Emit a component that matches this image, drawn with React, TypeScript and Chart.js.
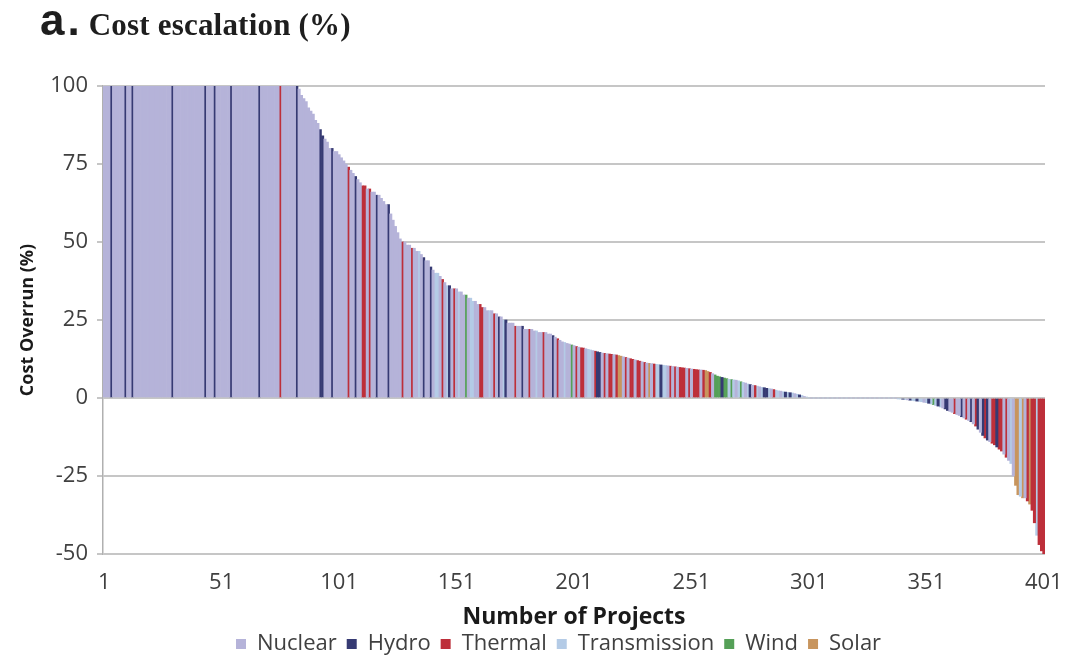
import React, { useEffect, useRef } from 'react';
import { Chart, registerables } from 'chart.js';

Chart.register(...registerables);

// Project categories shown in the legend, their one-letter codes and bar colours
const projectTypes = ['Nuclear', 'Hydro', 'Thermal', 'Transmission', 'Wind', 'Solar'];
const typeCodes = ['N', 'H', 'T', 'R', 'W', 'S'];
const typeColors = ['#b5b3d9', '#363a73', '#bd2f3a', '#b4cbe6', '#55a057', '#c8955e'];

// Cost overrun (%) per project, sorted from largest to smallest
const costOverrun = [
  100, 100, 100, 100, 100, 100, 100, 100, 100, 100,
  100, 100, 100, 100, 100, 100, 100, 100, 100, 100,
  100, 100, 100, 100, 100, 100, 100, 100, 100, 100,
  100, 100, 100, 100, 100, 100, 100, 100, 100, 100,
  100, 100, 100, 100, 100, 100, 100, 100, 100, 100,
  100, 100, 100, 100, 100, 100, 100, 100, 100, 100,
  100, 100, 100, 100, 100, 100, 100, 100, 100, 100,
  100, 100, 100, 100, 100, 100, 100, 100, 100, 100,
  100, 100, 100, 99, 97, 96, 95, 93, 92, 91,
  89, 88, 86, 84, 83, 82, 80, 80, 79, 79,
  78, 77, 76, 75, 74, 73, 72, 71, 70, 69,
  68, 68, 67, 67, 66, 66, 65, 65, 64, 63,
  62, 62, 59, 57, 55, 53, 51, 50, 50, 49,
  49, 48, 48, 47, 47, 46, 45, 44, 44, 42,
  41, 40, 40, 39, 38, 37, 36, 36, 35, 35,
  35, 34, 34, 33, 33, 32, 32, 31, 31, 30,
  30, 29, 29, 28, 28, 28, 27, 27, 26, 26,
  25, 25, 24, 24, 24, 23, 23, 23, 23, 22,
  22, 22, 22, 21.5, 21.5, 21, 21, 21, 21, 20.5,
  20.5, 20, 19.5, 19, 18.5, 18, 17.8, 17.5, 17.3, 17,
  16.8, 16.5, 16.3, 16.1, 16, 15.8, 15.6, 15.4, 15.2, 15,
  14.8, 14.6, 14.4, 14.3, 14.2, 14.1, 14, 13.9, 13.8, 13.6,
  13.4, 13.2, 13, 12.8, 12.6, 12.4, 12.2, 12, 11.8, 11.6,
  11.4, 11.2, 11.1, 11, 10.9, 10.8, 10.7, 10.6, 10.5, 10.4,
  10.3, 10.2, 10.1, 10, 9.9, 9.8, 9.7, 9.6, 9.5, 9.4,
  9.3, 9.2, 9.1, 9, 9, 8.9, 8.8, 8.5, 8.2, 7.8,
  7.4, 7, 6.8, 6.6, 6.4, 6.2, 6, 5.9, 5.8, 5.7,
  5.5, 5.2, 5, 4.8, 4.5, 4.3, 4.1, 4, 3.8, 3.6,
  3.4, 3.3, 3.1, 3, 2.9, 2.7, 2.5, 2.3, 2.2, 2,
  1.9, 1.8, 1.7, 1.6, 1.4, 1.2, 1, 0.8, 0.5, 0.3,
  0, 0, 0, 0, 0, 0, 0, 0, 0, 0,
  0, 0, 0, 0, 0, 0, 0, 0, 0, 0,
  0, 0, 0, 0, 0, 0, 0, 0, 0, 0,
  0, 0, 0, 0, 0, 0, 0, 0, -0.2, -0.3,
  -0.4, -0.5, -0.6, -0.7, -0.8, -0.9, -1, -1.1, -1.2, -1.4,
  -1.5, -1.7, -1.9, -2.1, -2.4, -2.6, -2.9, -3.2, -3.5, -4,
  -4.3, -4.6, -5, -5.3, -5.6, -6, -6.4, -6.8, -7.2, -7.6,
  -8.3, -9, -10, -11, -12, -12.8, -13.5, -14, -14.5, -15,
  -15.7, -16.4, -17, -18, -19, -20, -21, -25, -28, -31,
  -31.5, -32, -32, -33, -34, -36, -40, -44, -47, -49,
  -50,
];

// Type code of each project, in the same order (ten projects per group)
const projectTypeCodes = [
  'NNNHNNNNNH NNHNNNNNNN NNNNNNNNNH NNNNNNNNNN NNNHNNNHNN',
  'NNNNHNNNNN NNNNNNHNNN NNNNNTNNNN NNHNNNNNNN NNHHNNNHNN',
  'NNNNTNNHNN TTNTNNHNNN NHNNNNNTNN NTNNRNHNNH NRRNTNRHNT',
  'NRNNWNRRNN TTNNRNTNHN RHNNNTNNHN NTNNRNNTNN NHNTNNRNNW',
  'NTNTTNRRNT HHNTNTTNTS SNTNTTNTTN TNSNTRRHRR NTNTNTTTNT',
  'NTTTNTSSTN WWWHWWRWRN RWRNRHNTRN RHHRNTRRNR HRHRNRHRNR',
  'RNRNRNRNRN RNRNRNRNRN RNRNRNRNRN RNRNRNRNRR HRNHRRHRRN',
  'RHRWRHRNHH NNTNNHNTNH NTHNHTHNTT HTTNTNRNSS RSNTSTTRTT',
  'T',
].join('').replace(/ /g, '');

// Category labels: project numbers 1..N, labelled every 50th project
const projectNumbers = costOverrun.map((_, i) => String(i + 1));
const labelEvery = 50;

const tickFont = { family: '"Open Sans"', size: 22 };
const axisTextColor = '#404040';
const titleColor = '#1a1a1a';

// Places the legend row at a fixed left edge
const legendLeft = 226;
const legendPlacement = {
  id: 'legendPlacement',
  afterLayout(chart: any) {
    const lg = chart.legend;
    if (!lg) return;
    const shift = legendLeft - lg.left;
    lg.left += shift;
    lg.right += shift;
  },
};

export default function App() {
  const canvasRef = useRef<HTMLCanvasElement>(null);

  useEffect(() => {
    const datasets = projectTypes.map((name, k) => ({
      label: name,
      data: costOverrun.map((v, i) => (projectTypeCodes[i] === typeCodes[k] ? v : null)),
      backgroundColor: typeColors[k],
      borderWidth: 0,
      barPercentage: 1,
      categoryPercentage: 1,
    }));

    const chart = new Chart(canvasRef.current as HTMLCanvasElement, {
      type: 'bar',
      data: { labels: projectNumbers, datasets },
      plugins: [legendPlacement],
      options: {
        responsive: false,
        animation: false,
        layout: { padding: { top: 86, right: 44, bottom: -9, left: 0 } },
        plugins: {
          legend: {
            position: 'bottom',
            align: 'start',
            labels: {
              boxWidth: 10,
              boxHeight: 10,
              padding: 10,
              color: axisTextColor,
              font: { family: '"Open Sans"', size: 22 },
            },
          },
          tooltip: { enabled: false },
        },
        scales: {
          x: {
            stacked: true,
            grid: { display: false, drawTicks: false },
            border: { display: false },
            ticks: {
              autoSkip: false,
              maxRotation: 0,
              padding: 16,
              color: axisTextColor,
              font: tickFont,
              callback: (_v: any, index: number) =>
                index % labelEvery === 0 ? projectNumbers[index] : null,
            },
            title: {
              display: true,
              text: 'Number of Projects',
              color: titleColor,
              font: { family: '"Open Sans"', size: 23, weight: 'bold' },
              padding: { top: 0, bottom: -8 },
            },
            afterFit: (scale: any) => {
              scale.height = 69;
            },
          },
          y: {
            stacked: true,
            min: -50,
            max: 100,
            ticks: {
              stepSize: 25,
              padding: 9,
              color: axisTextColor,
              font: tickFont,
            },
            grid: { color: '#c6c6c6', lineWidth: 2, tickLength: 6, drawTicks: true },
            border: { color: '#b0b0b0', width: 1.5 },
            title: {
              display: true,
              text: 'Cost Overrun (%)',
              color: titleColor,
              font: { family: '"Open Sans"', size: 18, weight: 'bold' },
              padding: { top: 17, bottom: 0 },
            },
            afterFit: (scale: any) => {
              scale.width = 103;
            },
          },
        },
      },
    });
    return () => chart.destroy();
  }, []);

  return (
    <div style={{ position: 'fixed', left: 0, top: 0, width: 1089, height: 656, background: '#fff' }}>
      <div
        style={{
          position: 'absolute',
          left: 40,
          top: -2,
          whiteSpace: 'nowrap',
          lineHeight: '44px',
          fontFamily: '"Liberation Sans", Arial, sans-serif',
          fontWeight: 700,
          fontSize: 44,
          color: '#1e1e1e',
        }}
      >
        <span style={{ letterSpacing: 3 }}>a.</span>
        <span
          style={{
            fontFamily: '"Liberation Serif", serif',
            fontSize: 31,
            marginLeft: 6,
            letterSpacing: 0.2,
          }}
        >
          Cost escalation (%)
        </span>
      </div>
      <canvas ref={canvasRef} width={1089} height={656} style={{ display: 'block' }} />
    </div>
  );
}
